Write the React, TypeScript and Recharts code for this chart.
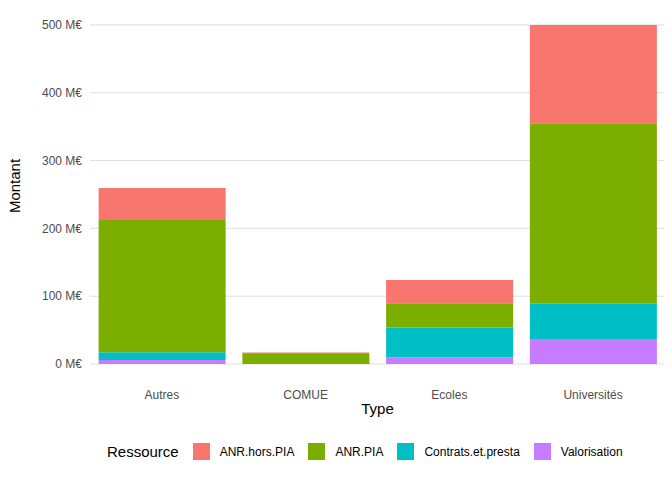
import { BarChart, Bar, XAxis, YAxis, CartesianGrid } from 'recharts';

const types = ['Autres', 'COMUE', 'Ecoles', 'Universités'];
const valorisation = [5.8, 0, 9.6, 35.8];
const contrats = [11.7, 0, 44.4, 53.9];
const anrPia = [194.9, 14.6, 35.7, 265.3];
const anrHorsPia = [47.2, 2.4, 34.3, 145];
const yTicks = [0, 100, 200, 300, 400, 500];

const series = [
  { key: 'ANR.hors.PIA', color: '#F8766D', values: anrHorsPia },
  { key: 'ANR.PIA', color: '#7CAE00', values: anrPia },
  { key: 'Contrats.et.presta', color: '#00BFC4', values: contrats },
  { key: 'Valorisation', color: '#C77CFF', values: valorisation },
];

const data = types.map((t, i) => {
  const row: any = { name: t };
  series.forEach((s) => (row[s.key] = s.values[i]));
  return row;
});

const font = 'Liberation Sans, Arial, sans-serif';

export default function App() {
  return (
    <div style={{ position: 'relative', width: 672, height: 480, margin: -8, fontFamily: font, background: '#fff' }}>
      <BarChart width={672} height={480} data={data} margin={{ top: 8, right: 7, left: 0, bottom: 86 }} barCategoryGap="6%">
        <CartesianGrid vertical={false} stroke="#dedede" horizontalValues={yTicks} />
        <XAxis dataKey="name" axisLine={false} tickLine={false} tick={{ fill: '#4d4d4d', fontSize: 12, fontFamily: font }} tickMargin={20} />
        <YAxis
          width={90}
          domain={[0, 525]}
          ticks={yTicks}
          axisLine={false}
          tickLine={false}
          tickFormatter={(v) => `${v} M€`}
          tick={{ fill: '#4d4d4d', fontSize: 12, fontFamily: font }}
        />
        {[...series].reverse().map((s) => (
          <Bar key={s.key} dataKey={s.key} stackId="a" fill={s.color} isAnimationActive={false} />
        ))}
      </BarChart>
      <div style={{ position: 'absolute', top: 400, left: 90, width: 575, textAlign: 'center', fontSize: 15 }}>Type</div>
      <div style={{ position: 'absolute', top: 186, left: 14, width: 0, height: 0 }}>
        <div style={{ position: 'absolute', transform: 'translate(-50%, -50%) rotate(-90deg)', fontSize: 15, whiteSpace: 'nowrap' }}>Montant</div>
      </div>
      <div style={{ position: 'absolute', top: 443, left: 107, display: 'flex', alignItems: 'center', fontSize: 12, color: '#000' }}>
        <span style={{ fontSize: 15, marginRight: 8 }}>Ressource</span>
        {series.map((s) => (
          <span key={s.key} style={{ display: 'flex', alignItems: 'center', marginRight: 8 }}>
            <span style={{ width: 17, height: 17, background: s.color, display: 'inline-block', marginRight: 10, marginLeft: 6 }} />
            {s.key}
          </span>
        ))}
      </div>
    </div>
  );
}
